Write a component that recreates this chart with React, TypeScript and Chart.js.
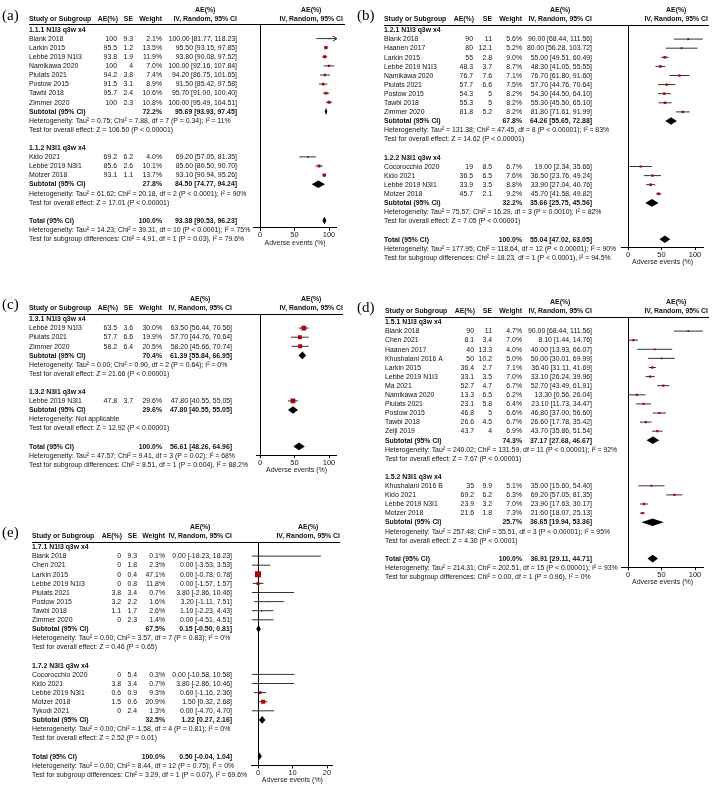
import React, { useEffect, useRef } from 'react';
import { Chart, registerables } from 'chart.js';
Chart.register(...registerables);

// ---------------- tick labels ----------------
const pctTicks = [0, 50, 100];
const eTicks = [0, 10, 20];
const axisTitle = 'Adverse events (%)';

// ---------------- Panel (a) ----------------
const aSubTitles = ['1.1.1 N1I3 q3w x4', '1.1.2 N3I1 q3w x4'];
const aStudies = ['Blank 2018', 'Larkin 2015', 'Lebbé 2019 N1I3', 'Namikawa 2020', 'Piulats 2021', 'Postow 2015', 'Tawbi 2018', 'Zimmer 2020', 'Kido 2021', 'Lebbé 2019 N3I1', 'Motzer 2018'];
const aGroup = [0, 0, 0, 0, 0, 0, 0, 0, 1, 1, 1];
const aAE = [100, 95.5, 93.8, 100, 94.2, 91.5, 95.7, 100, 69.2, 85.6, 93.1];
const aSE = [9.3, 1.2, 1.9, 4, 3.8, 3.1, 2.4, 2.3, 6.2, 2.6, 1.1];
const aWeight = [2.1, 13.5, 11.9, 7.0, 7.4, 8.9, 10.6, 10.8, 4.0, 10.1, 13.7];
const aLow = [81.77, 93.15, 90.08, 92.16, 86.75, 85.42, 91.0, 95.49, 57.05, 80.5, 90.94];
const aHigh = [118.23, 97.85, 97.52, 107.84, 101.65, 97.58, 100.4, 104.51, 81.35, 90.7, 95.26];
const aSubWeight = [72.2, 27.8];
const aSubEst = [95.69, 84.5];
const aSubLow = [93.93, 74.77];
const aSubHigh = [97.45, 94.24];
const aSubHet = [
  'Heterogeneity: Tau² = 0.75; Chi² = 7.88, df = 7 (P = 0.34); I² = 11%',
  'Heterogeneity: Tau² = 61.62; Chi² = 20.18, df = 2 (P < 0.0001); I² = 90%',
];
const aSubTest = ['Test for overall effect: Z = 106.50 (P < 0.00001)', 'Test for overall effect: Z = 17.01 (P < 0.00001)'];
const aTotal = [93.38, 90.53, 96.23];
const aTotalNotes = [
  'Heterogeneity: Tau² = 14.23; Chi² = 39.31, df = 10 (P < 0.0001); I² = 75%',
  'Test for subgroup differences: Chi² = 4.91, df = 1 (P = 0.03), I² = 79.6%',
];

// ---------------- Panel (b) ----------------
const bSubTitles = ['1.2.1 N1I3 q3w x4', '1.2.2 N3I1 q3w x4'];
const bStudies = ['Blank 2018', 'Haanen 2017', 'Larkin 2015', 'Lebbé 2019 N1I3', 'Namikawa 2020', 'Piulats 2021', 'Postow 2015', 'Tawbi 2018', 'Zimmer 2020', 'Cocorocchio 2020', 'Kido 2021', 'Lebbé 2019 N3I1', 'Motzer 2018'];
const bGroup = [0, 0, 0, 0, 0, 0, 0, 0, 0, 1, 1, 1, 1];
const bAE = [90, 80, 55, 48.3, 76.7, 57.7, 54.3, 55.3, 81.8, 19, 36.5, 33.9, 45.7];
const bSE = [11, 12.1, 2.8, 3.7, 7.6, 6.6, 5, 5, 5.2, 8.5, 6.5, 3.5, 2.1];
const bWeight = [5.6, 5.2, 9.0, 8.7, 7.1, 7.5, 8.2, 8.2, 8.2, 6.7, 7.6, 8.8, 9.2];
const bLow = [68.44, 56.28, 49.51, 41.05, 61.8, 44.76, 44.5, 45.5, 71.61, 2.34, 23.76, 27.04, 41.58];
const bHigh = [111.56, 103.72, 60.49, 55.55, 91.6, 70.64, 64.1, 65.1, 91.99, 35.66, 49.24, 40.76, 49.82];
const bSubWeight = [67.8, 32.2];
const bSubEst = [64.26, 35.66];
const bSubLow = [55.65, 25.75];
const bSubHigh = [72.88, 45.56];
const bSubHet = [
  'Heterogeneity: Tau² = 131.38; Chi² = 47.45, df = 8 (P < 0.00001); I² = 83%',
  'Heterogeneity: Tau² = 75.57; Chi² = 16.29, df = 3 (P = 0.0010); I² = 82%',
];
const bSubTest = ['Test for overall effect: Z = 14.62 (P < 0.00001)', 'Test for overall effect: Z = 7.05 (P < 0.00001)'];
const bTotal = [55.04, 47.02, 63.05];
const bTotalNotes = [
  'Heterogeneity: Tau² = 177.95; Chi² = 118.64, df = 12 (P < 0.00001); I² = 90%',
  'Test for subgroup differences: Chi² = 18.23, df = 1 (P < 0.0001), I² = 94.5%',
];

// ---------------- Panel (c) ----------------
const cSubTitles = ['1.3.1 N1I3 q3w x4', '1.3.2 N3I1 q3w x4'];
const cStudies = ['Lebbé 2019 N1I3', 'Piulats 2021', 'Zimmer 2020', 'Lebbé 2019 N3I1'];
const cGroup = [0, 0, 0, 1];
const cAE = [63.5, 57.7, 58.2, 47.8];
const cSE = [3.6, 6.6, 6.4, 3.7];
const cWeight = [30.0, 19.9, 20.5, 29.6];
const cLow = [56.44, 44.76, 45.66, 40.55];
const cHigh = [70.56, 70.64, 70.74, 55.05];
const cSubWeight = [70.4, 29.6];
const cSubEst = [61.39, 47.8];
const cSubLow = [55.84, 40.55];
const cSubHigh = [66.95, 55.05];
const cSubHet = ['Heterogeneity: Tau² = 0.00; Chi² = 0.90, df = 2 (P = 0.64); I² = 0%', 'Heterogeneity: Not applicable'];
const cSubTest = ['Test for overall effect: Z = 21.66 (P < 0.00001)', 'Test for overall effect: Z = 12.92 (P < 0.00001)'];
const cTotal = [56.61, 48.26, 64.96];
const cTotalNotes = [
  'Heterogeneity: Tau² = 47.57; Chi² = 9.41, df = 3 (P = 0.02); I² = 68%',
  'Test for subgroup differences: Chi² = 8.51, df = 1 (P = 0.004), I² = 88.2%',
];

// ---------------- Panel (d) ----------------
const dSubTitles = ['1.5.1 N1I3 q3w x4', '1.5.2 N3I1 q3w x4'];
const dStudies = ['Blank 2018', 'Chen 2021', 'Haanen 2017', 'Khushalani 2016 A', 'Larkin 2015', 'Lebbé 2019 N1I3', 'Ma 2021', 'Namikawa 2020', 'Piulats 2021', 'Postow 2015', 'Tawbi 2018', 'Zeijl 2019', 'Khushalani 2016 B', 'Kido 2021', 'Lebbé 2019 N3I1', 'Motzer 2018'];
const dGroup = [0, 0, 0, 0, 0, 0, 0, 0, 0, 0, 0, 0, 1, 1, 1, 1];
const dAE = [90, 8.1, 40, 50, 36.4, 33.1, 52.7, 13.3, 23.1, 46.8, 26.6, 43.7, 35, 69.2, 23.9, 21.6];
const dSE = [11, 3.4, 13.3, 10.2, 2.7, 3.5, 4.7, 6.5, 5.8, 5, 4.5, 4, 9.9, 6.2, 3.2, 1.8];
const dWeight = [4.7, 7.0, 4.0, 5.0, 7.1, 7.0, 6.7, 6.2, 6.4, 6.6, 6.7, 6.9, 5.1, 6.3, 7.0, 7.3];
const dLow = [68.44, 1.44, 13.93, 30.01, 31.11, 26.24, 43.49, 0.56, 11.73, 37.0, 17.78, 35.86, 15.6, 57.05, 17.63, 18.07];
const dHigh = [111.56, 14.76, 66.07, 69.99, 41.69, 39.96, 61.91, 26.04, 34.47, 56.6, 35.42, 51.54, 54.4, 81.35, 30.17, 25.13];
const dSubWeight = [74.3, 25.7];
const dSubEst = [37.17, 36.65];
const dSubLow = [27.68, 19.94];
const dSubHigh = [46.67, 53.36];
const dSubHet = [
  'Heterogeneity: Tau² = 240.02; Chi² = 131.59, df = 11 (P < 0.00001); I² = 92%',
  'Heterogeneity: Tau² = 257.48; Chi² = 55.51, df = 3 (P < 0.00001); I² = 95%',
];
const dSubTest = ['Test for overall effect: Z = 7.67 (P < 0.00001)', 'Test for overall effect: Z = 4.30 (P < 0.0001)'];
const dTotal = [36.91, 29.11, 44.71];
const dTotalNotes = [
  'Heterogeneity: Tau² = 214.31; Chi² = 202.51, df = 15 (P < 0.00001); I² = 93%',
  'Test for subgroup differences: Chi² = 0.00, df = 1 (P = 0.96), I² = 0%',
];

// ---------------- Panel (e) ----------------
const eSubTitles = ['1.7.1 N1I3 q3w x4', '1.7.2 N3I1 q3w x4'];
const eStudies = ['Blank 2018', 'Chen 2021', 'Larkin 2015', 'Lebbé 2019 N1I3', 'Piulats 2021', 'Postow 2015', 'Tawbi 2018', 'Zimmer 2020', 'Cocorocchio 2020', 'Kido 2021', 'Lebbé 2019 N3I1', 'Motzer 2018', 'Tykodi 2021'];
const eGroup = [0, 0, 0, 0, 0, 0, 0, 0, 1, 1, 1, 1, 1];
const eAE = [0, 0, 0, 0, 3.8, 3.2, 1.1, 0, 0, 3.8, 0.6, 1.5, 0];
const eSE = [9.3, 1.8, 0.4, 0.8, 3.4, 2.2, 1.7, 2.3, 5.4, 3.4, 0.9, 0.6, 2.4];
const eWeight = [0.1, 2.3, 47.1, 11.8, 0.7, 1.6, 2.6, 1.4, 0.3, 0.7, 9.3, 20.9, 1.3];
const eLow = [-18.23, -3.53, -0.78, -1.57, -2.86, -1.11, -2.23, -4.51, -10.58, -2.86, -1.16, 0.32, -4.7];
const eHigh = [18.23, 3.53, 0.78, 1.57, 10.46, 7.51, 4.43, 4.51, 10.58, 10.46, 2.36, 2.68, 4.7];
const eSubWeight = [67.5, 32.5];
const eSubEst = [0.15, 1.22];
const eSubLow = [-0.5, 0.27];
const eSubHigh = [0.81, 2.16];
const eSubHet = [
  'Heterogeneity: Tau² = 0.00; Chi² = 3.57, df = 7 (P = 0.83); I² = 0%',
  'Heterogeneity: Tau² = 0.00; Chi² = 1.58, df = 4 (P = 0.81); I² = 0%',
];
const eSubTest = ['Test for overall effect: Z = 0.46 (P = 0.65)', 'Test for overall effect: Z = 2.52 (P = 0.01)'];
const eTotal = [0.5, -0.04, 1.04];
const eTotalNotes = [
  'Heterogeneity: Tau² = 0.00; Chi² = 8.44, df = 12 (P = 0.75); I² = 0%',
  'Test for subgroup differences: Chi² = 3.29, df = 1 (P = 0.07), I² = 69.6%',
];

// ---------------- types & panel setup ----------------
type Data = {
  subTitles: string[]; studies: string[]; group: number[]; ae: number[]; se: number[]; weight: number[];
  low: number[]; high: number[]; subWeight: number[]; subEst: number[]; subLow: number[]; subHigh: number[];
  subHet: string[]; subTest: string[]; total: number[]; totalNotes: string[];
};
type Cols = { study: number; ae: number; se: number; w: number; ci: number; hdrR: number; lineR: number };
type Panel = {
  label: string; left: number; top: number; width: number; height: number;
  r0: number; s: number; axisRow: number; zeroX: number; k: number; xMin: number; xMax: number;
  ticks: number[]; cols: Cols; data: Data;
};

const PANELS: Panel[] = [
  {
    label: '(a)', left: 0, top: 0, width: 355, height: 252, r0: 29.5, s: 9.1, axisRow: 21.8,
    zeroX: 260, k: 0.69, xMin: -10, xMax: 111.5, ticks: pctTicks,
    cols: { study: 29, ae: 117, se: 133, w: 162, ci: 237, hdrR: 343, lineR: 345 },
    data: { subTitles: aSubTitles, studies: aStudies, group: aGroup, ae: aAE, se: aSE, weight: aWeight, low: aLow, high: aHigh, subWeight: aSubWeight, subEst: aSubEst, subLow: aSubLow, subHigh: aSubHigh, subHet: aSubHet, subTest: aSubTest, total: aTotal, totalNotes: aTotalNotes },
  },
  {
    label: '(b)', left: 355, top: 0, width: 361, height: 268, r0: 30, s: 9.1, axisRow: 23.85,
    zeroX: 628, k: 0.67, xMin: -9, xMax: 112, ticks: pctTicks,
    cols: { study: 29, ae: 118, se: 137, w: 167, ci: 237, hdrR: 353, lineR: 354 },
    data: { subTitles: bSubTitles, studies: bStudies, group: bGroup, ae: bAE, se: bSE, weight: bWeight, low: bLow, high: bHigh, subWeight: bSubWeight, subEst: bSubEst, subLow: bSubLow, subHigh: bSubHigh, subHet: bSubHet, subTest: bSubTest, total: bTotal, totalNotes: bTotalNotes },
  },
  {
    label: '(c)', left: 0, top: 285, width: 355, height: 195, r0: 319, s: 9.1, axisRow: 14.95,
    zeroX: 260, k: 0.69, xMin: -5, xMax: 111, ticks: pctTicks,
    cols: { study: 29, ae: 117, se: 133, w: 162, ci: 232, hdrR: 343, lineR: 343 },
    data: { subTitles: cSubTitles, studies: cStudies, group: cGroup, ae: cAE, se: cSE, weight: cWeight, low: cLow, high: cHigh, subWeight: cSubWeight, subEst: cSubEst, subLow: cSubLow, subHigh: cSubHigh, subHet: cSubHet, subTest: cSubTest, total: cTotal, totalNotes: cTotalNotes },
  },
  {
    label: '(d)', left: 355, top: 285, width: 361, height: 305, r0: 322, s: 9.1, axisRow: 26.95,
    zeroX: 628, k: 0.67, xMin: -9, xMax: 112, ticks: pctTicks,
    cols: { study: 30, ae: 119, se: 137, w: 167, ci: 237, hdrR: 353, lineR: 354 },
    data: { subTitles: dSubTitles, studies: dStudies, group: dGroup, ae: dAE, se: dSE, weight: dWeight, low: dLow, high: dHigh, subWeight: dSubWeight, subEst: dSubEst, subLow: dSubLow, subHigh: dSubHigh, subHet: dSubHet, subTest: dSubTest, total: dTotal, totalNotes: dTotalNotes },
  },
  {
    label: '(e)', left: 0, top: 515, width: 355, height: 274, r0: 547, s: 9.1, axisRow: 24.0,
    zeroX: 258, k: 3.45, xMin: -1.75, xMax: 21.7, ticks: eTicks,
    cols: { study: 32, ae: 121, se: 137, w: 165, ci: 232, hdrR: 340, lineR: 340 },
    data: { subTitles: eSubTitles, studies: eStudies, group: eGroup, ae: eAE, se: eSE, weight: eWeight, low: eLow, high: eHigh, subWeight: eSubWeight, subEst: eSubEst, subLow: eSubLow, subHigh: eSubHigh, subHet: eSubHet, subTest: eSubTest, total: eTotal, totalNotes: eTotalNotes },
  },
];

type Row = { kind: 'title' | 'study' | 'sub' | 'note' | 'total'; r: number; text?: string; i?: number; g?: number };

function buildRows(d: Data): Row[] {
  const rows: Row[] = [];
  let r = 0;
  d.subTitles.forEach((t, g) => {
    rows.push({ kind: 'title', r: r++, text: t });
    d.studies.forEach((_, i) => {
      if (d.group[i] === g) rows.push({ kind: 'study', r: r++, i });
    });
    rows.push({ kind: 'sub', r: r++, g });
    rows.push({ kind: 'note', r: r++, text: d.subHet[g] });
    rows.push({ kind: 'note', r: r++, text: d.subTest[g] });
    r++;
  });
  rows.push({ kind: 'total', r: r++ });
  rows.push({ kind: 'note', r: r++, text: d.totalNotes[0] });
  rows.push({ kind: 'note', r: r++, text: d.totalNotes[1] });
  return rows;
}

const FONT = "'Liberation Sans', Arial, Helvetica, sans-serif";
const FS = 8;
const SX = 0.86;
const AXIS_H = 19;
const TEXT = '#111';

function setFont(ctx: CanvasRenderingContext2D, bold: boolean) {
  ctx.font = `${bold ? 'bold ' : ''}${FS}px ${FONT}`;
}
function T(ctx: CanvasRenderingContext2D, s: string, x: number, y: number, align: CanvasTextAlign, bold = false) {
  ctx.save();
  setFont(ctx, bold);
  ctx.fillStyle = TEXT;
  ctx.textBaseline = 'middle';
  ctx.textAlign = align;
  ctx.translate(x, y);
  ctx.scale(SX, 1);
  ctx.fillText(s, 0, 0);
  ctx.restore();
}
function W(ctx: CanvasRenderingContext2D, s: string, bold = false) {
  ctx.save();
  setFont(ctx, bold);
  const w = ctx.measureText(s).width * SX;
  ctx.restore();
  return w;
}
const ciText = (e: number, l: number, h: number) => `${e.toFixed(2)} [${l.toFixed(2)}, ${h.toFixed(2)}]`;

function makePlugin(p: Panel, rows: Row[]) {
  const d = p.data;
  return {
    id: 'forest' + p.label.replace(/[()]/g, ''),
    afterDatasetsDraw(chart: any) {
      const ctx: CanvasRenderingContext2D = chart.ctx;
      const xs = chart.scales.x;
      const ys = chart.scales.y;
      const dia = (est: number, lo: number, hi: number, r: number) => {
        const yc = ys.getPixelForValue(r);
        const h = ys.getPixelForValue(r + 0.42) - yc;
        ctx.beginPath();
        ctx.moveTo(xs.getPixelForValue(lo), yc);
        ctx.lineTo(xs.getPixelForValue(est), yc - h);
        ctx.lineTo(xs.getPixelForValue(hi), yc);
        ctx.lineTo(xs.getPixelForValue(est), yc + h);
        ctx.closePath();
        ctx.fill();
      };
      ctx.save();
      ctx.fillStyle = '#000';
      rows.forEach((row) => {
        if (row.kind === 'sub') dia(d.subEst[row.g!], d.subLow[row.g!], d.subHigh[row.g!], row.r);
        if (row.kind === 'total') dia(d.total[0], d.total[1], d.total[2], row.r);
      });
      ctx.strokeStyle = '#222';
      ctx.lineWidth = 1;
      rows.forEach((row) => {
        if (row.kind === 'study' && d.high[row.i!] > p.xMax) {
          const X = xs.getPixelForValue(p.xMax);
          const Y = ys.getPixelForValue(row.r);
          ctx.beginPath();
          ctx.moveTo(X - 4, Y - 2.5);
          ctx.lineTo(X, Y);
          ctx.lineTo(X - 4, Y + 2.5);
          ctx.stroke();
        }
      });
      ctx.restore();
    },
    afterDraw(chart: any) {
      const ctx: CanvasRenderingContext2D = chart.ctx;
      const ys = chart.scales.y;
      const Y = (r: number) => ys.getPixelForValue(r);
      const c = p.cols;
      // panel label
      ctx.save();
      ctx.font = "15px 'Liberation Serif', 'Times New Roman', serif";
      ctx.fillStyle = '#000';
      ctx.textBaseline = 'middle';
      ctx.textAlign = 'left';
      ctx.fillText(p.label, 2, Y(-1.5));
      ctx.restore();
      // headers
      const yh = Y(-1.2);
      const yt = Y(-2.2);
      const ciHdr = 'IV, Random, 95% CI';
      const wH = W(ctx, ciHdr, true);
      T(ctx, 'Study or Subgroup', c.study, yh, 'left', true);
      T(ctx, 'AE(%)', c.ae + 1, yh, 'right', true);
      T(ctx, 'SE', c.se, yh, 'right', true);
      T(ctx, 'Weight', c.w, yh, 'right', true);
      T(ctx, ciHdr, c.ci, yh, 'right', true);
      T(ctx, 'AE(%)', c.ci - wH / 2, yt, 'center', true);
      T(ctx, ciHdr, c.hdrR, yh, 'right', true);
      T(ctx, 'AE(%)', c.hdrR - wH / 2, yt, 'center', true);
      // header rule
      ctx.save();
      ctx.strokeStyle = '#000';
      ctx.lineWidth = 1;
      const ly = Math.round(chart.chartArea.top) + 0.5;
      ctx.beginPath();
      ctx.moveTo(c.study, ly);
      ctx.lineTo(c.lineR, ly);
      ctx.stroke();
      ctx.restore();
      // rows
      rows.forEach((row) => {
        const y = Y(row.r);
        if (row.kind === 'title') T(ctx, row.text!, c.study, y, 'left', true);
        else if (row.kind === 'note') T(ctx, row.text!, c.study, y, 'left', false);
        else if (row.kind === 'study') {
          const i = row.i!;
          T(ctx, d.studies[i], c.study, y, 'left');
          T(ctx, String(d.ae[i]), c.ae, y, 'right');
          T(ctx, String(d.se[i]), c.se, y, 'right');
          T(ctx, d.weight[i].toFixed(1) + '%', c.w, y, 'right');
          T(ctx, ciText(d.ae[i], d.low[i], d.high[i]), c.ci, y, 'right');
        } else if (row.kind === 'sub') {
          const g = row.g!;
          T(ctx, 'Subtotal (95% CI)', c.study, y, 'left', true);
          T(ctx, d.subWeight[g].toFixed(1) + '%', c.w, y, 'right', true);
          T(ctx, ciText(d.subEst[g], d.subLow[g], d.subHigh[g]), c.ci, y, 'right', true);
        } else if (row.kind === 'total') {
          T(ctx, 'Total (95% CI)', c.study, y, 'left', true);
          T(ctx, '100.0%', c.w, y, 'right', true);
          T(ctx, ciText(d.total[0], d.total[1], d.total[2]), c.ci, y, 'right', true);
        }
      });
    },
  };
}

function makeChart(canvas: HTMLCanvasElement, p: Panel) {
  const d = p.data;
  const rows = buildRows(d);
  const studyRows = rows.filter((r) => r.kind === 'study');
  const plotL = p.zeroX + p.xMin * p.k - p.left;
  const plotR = p.zeroX + p.xMax * p.k - p.left;
  const topY = p.r0 - 0.55 * p.s - p.top;
  const axisY = p.r0 + p.axisRow * p.s - p.top;

  const datasets: any[] = [
    {
      data: studyRows.map((r) => ({ x: d.ae[r.i!], y: r.r })),
      pointStyle: 'rect',
      pointRadius: studyRows.map((r) => Math.max(0.7, 0.615 * Math.sqrt(d.weight[r.i!]))),
      backgroundColor: '#b40000',
      borderWidth: 0,
      showLine: false,
    },
    ...studyRows.map((r) => ({
      data: [
        { x: d.low[r.i!], y: r.r },
        { x: d.high[r.i!], y: r.r },
      ],
      showLine: true,
      borderColor: '#333',
      borderWidth: 1,
      pointRadius: 0,
    })),
  ];

  return new Chart(canvas, {
    type: 'scatter',
    data: { datasets },
    options: {
      responsive: false,
      maintainAspectRatio: false,
      animation: false,
      devicePixelRatio: 1,
      events: [],
      layout: {
        padding: { left: plotL, right: p.width - plotR, top: topY, bottom: p.height - axisY - AXIS_H },
      },
      plugins: { legend: { display: false }, tooltip: { enabled: false } },
      scales: {
        x: {
          type: 'linear',
          min: p.xMin,
          max: p.xMax,
          afterBuildTicks: (s: any) => {
            s.ticks = p.ticks.map((v) => ({ value: v }));
          },
          afterFit: (s: any) => {
            s.height = AXIS_H;
          },
          ticks: { autoSkip: false, maxRotation: 0, padding: 0, color: '#222', font: { size: 7.5, family: FONT } },
          grid: {
            drawOnChartArea: true,
            color: (ctx: any) => (ctx.tick && ctx.tick.value === 0 ? '#000' : 'rgba(0,0,0,0)'),
            tickColor: '#000',
            tickLength: 3,
            lineWidth: 1,
          },
          border: { display: true, color: '#000', width: 1 },
          title: { display: true, text: axisTitle, color: '#222', font: { size: 7, family: FONT }, padding: 0 },
        },
        y: { type: 'linear', display: false, reverse: true, min: -0.55, max: p.axisRow },
      },
    } as any,
    plugins: [makePlugin(p, rows) as any],
  });
}

export default function App() {
  const refs = useRef<(HTMLCanvasElement | null)[]>([]);
  useEffect(() => {
    const charts = PANELS.map((p, i) => makeChart(refs.current[i] as HTMLCanvasElement, p));
    return () => charts.forEach((c) => c.destroy());
  }, []);
  return (
    <div style={{ position: 'absolute', left: 0, top: 0, width: 716, height: 789, background: '#fff', overflow: 'hidden' }}>
      {PANELS.map((p, i) => (
        <canvas
          key={i}
          ref={(el) => {
            refs.current[i] = el;
          }}
          width={p.width}
          height={p.height}
          style={{ position: 'absolute', left: p.left, top: p.top, width: p.width, height: p.height }}
        />
      ))}
    </div>
  );
}
